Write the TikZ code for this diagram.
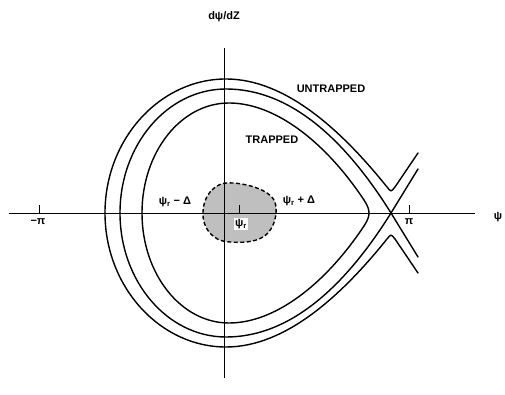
\documentclass[tikz,border=0pt]{standalone}
\usepackage{fontspec}
\setmainfont{Liberation Sans}
\newcommand\fishhalf{%
  % untrapped (outer)
  \draw[curve] (-119,0) .. controls (-119,74) and (-64,134) .. (2,134)
     .. controls (62,134) and (118,82) .. (163,26)
     .. controls (167,21) and (167,21) .. (171,26) -- (194,60);
  % separatrix
  \draw[curve] (-104,0) .. controls (-104,68.5) and (-56.5,124) .. (2,124)
     .. controls (62,124) and (117,80) .. (167,0) -- (194,-44);
  % trapped (inner)
  \draw[curve] (-82,0) .. controls (-82,61) and (-43,110) .. (5,110)
     .. controls (50,110) and (100,73) .. (140,13)
     .. controls (144,7) and (145,3) .. (145,0);
}
\begin{document}
\begin{tikzpicture}[x=1pt,y=1pt,
  curve/.style={line width=1.4pt, line cap=round},
  axisline/.style={line width=0.7pt},
  lbl/.style={font=\fontsize{11}{13}\selectfont\bfseries, inner sep=1pt}]
\useasboundingbox (-224,-182) rectangle (281,213);

% bucket region
\draw[line width=1.4pt, dash pattern=on 4pt off 2.5pt, fill=gray!50]
  plot[smooth cycle, tension=0.7] coordinates
  {(-21,1) (-12,23) (9,30) (43,20) (52,0) (39,-24) (6,-29) (-14,-20)};

% axes
\coordinate (xl) at (-215,0);
\coordinate (xr) at (251,0);
\coordinate (yt) at (0,165);
\coordinate (yb) at (0,-165);
\draw[axisline] (xl) -- (xr);
\draw[axisline] (yb) -- (yt);

% ticks
\coordinate (tmpi) at (-185,0);
\coordinate (tmpit) at (-185,8);
\coordinate (tpi) at (185,0);
\coordinate (tpit) at (185,8);
\coordinate (tpsi) at (15,0);
\coordinate (tpsit) at (15,8);
\draw[axisline] (tmpi) -- (tmpit);
\draw[axisline] (tpi) -- (tpit);
\draw[line width=1pt] (tpsi) -- (tpsit);

% curves
\fishhalf
\begin{scope}[yscale=-1]
\fishhalf
\end{scope}

% labels
\node[lbl] (ylab) at (0,196) {dψ/dZ};
\node[lbl] (xlab) at (274,-4) {ψ};
\node[lbl] (mpi) at (-186,-9) {−π};
\node[lbl] (ppi) at (185,-9) {π};
\node[lbl] (untr) at (107,124) {UNTRAPPED};
\node[lbl] (trap) at (48,73) {TRAPPED};
\node[lbl] (lo) at (-49,11) {ψ\textsubscript{r} − Δ};
\node[lbl] (hi) at (75,12) {ψ\textsubscript{r} + Δ};
\node[lbl, fill=white] (pr) at (17,-11) {ψ\textsubscript{r}};
\end{tikzpicture}
\end{document}
